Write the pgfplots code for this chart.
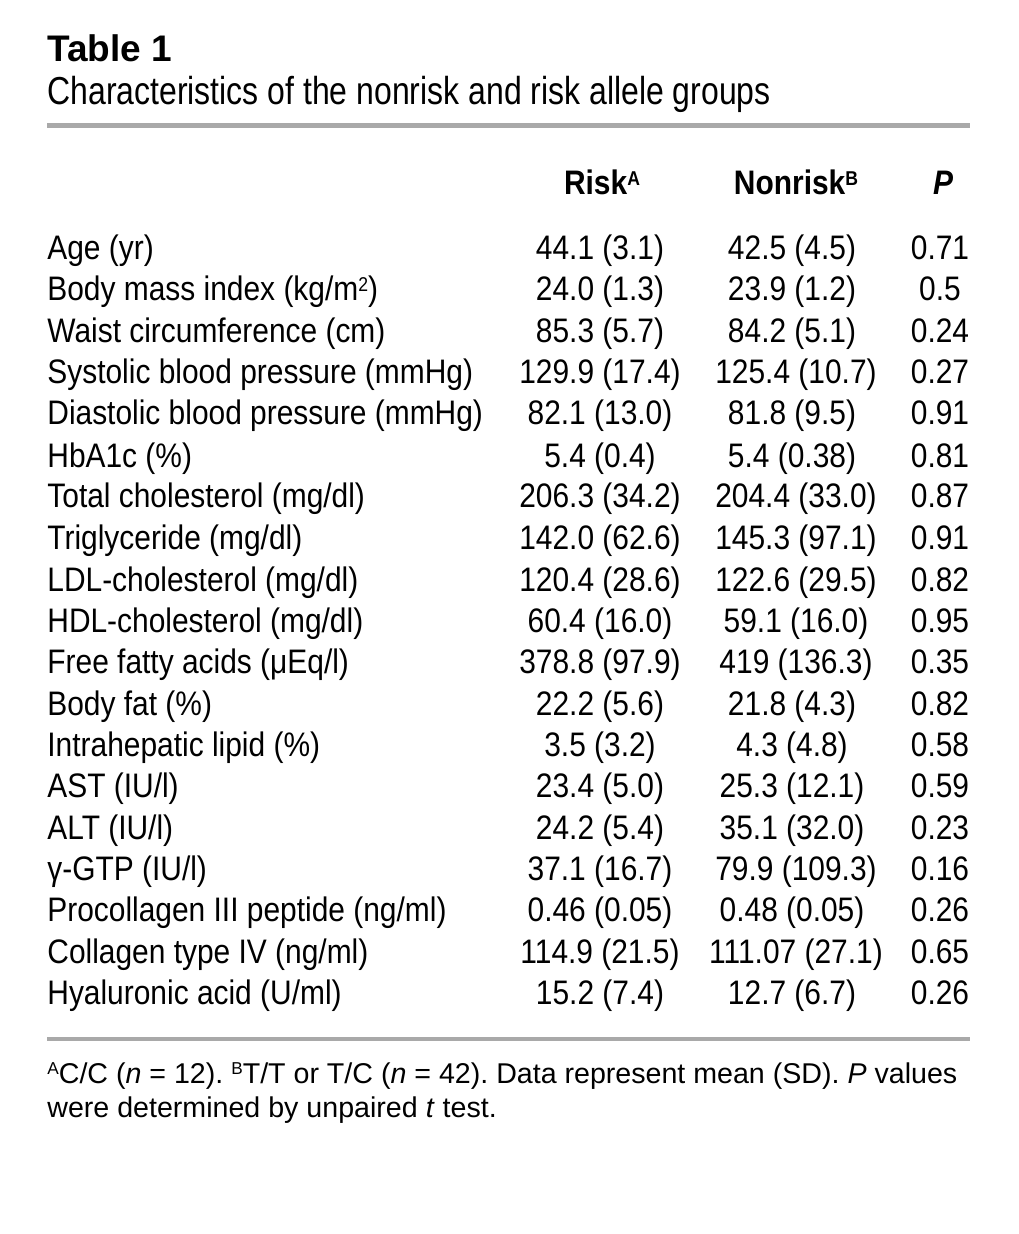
\documentclass[border=0pt]{standalone}
\usepackage{pgfplots}
\pgfplotsset{compat=1.18}
\usepackage{fontspec}
\setmainfont{Liberation Sans}[FakeStretch=0.88]
\newfontfamily\widefont{Liberation Sans}
\newfontfamily\subfont{Liberation Sans}[FakeStretch=0.82]
\frenchspacing

\definecolor{rulegray}{HTML}{A9A9A9}

% small superscripts with their top at cap height (table body / footnote)
\newcommand\supl[1]{\raisebox{0.29em}{\fontsize{10}{10}\selectfont #1}}
\newcommand\supf[1]{\raisebox{0.29em}{\fontsize{8.6}{8.6}\selectfont #1}}

% one text column of the table: x,y of the anchor, text as meta
\pgfplotsset{
  txt/.style={draw=none, mark=none, nodes near coords,
    point meta=explicit symbolic,
    every node near coord/.style={anchor=#1, inner sep=0pt, font=\fontsize{17}{19}\selectfont}},
}

\begin{document}
\begin{tikzpicture}
\begin{axis}[
  scale only axis, width=509pt, height=617pt,
  xmin=0, xmax=1018, ymin=0, ymax=1234, y dir=reverse,
  hide axis, clip=false,
]
\path (rel axis cs:0,0) rectangle (rel axis cs:1,1);

% title and rules
\addplot[draw=none, mark=none, nodes near coords, point meta=explicit symbolic,
  every node near coord/.style={anchor=base west, inner sep=0pt, font=\widefont\bfseries\fontsize{18.5}{20}\selectfont}]
  coordinates {(47,62) [Table 1]};
\addplot[draw=none, mark=none, nodes near coords, point meta=explicit symbolic,
  every node near coord/.style={anchor=base west, inner sep=0pt, font=\subfont\fontsize{19.5}{22}\selectfont}]
  coordinates {(47,105) [Characteristics of the nonrisk and risk allele groups]};
\addplot[rulegray, line width=2.5pt] coordinates {(47,125.5) (970,125.5)};
\addplot[rulegray, line width=2pt] coordinates {(47,1039) (970,1039)};

% header
\addplot[txt=base, every node near coord/.append style={font=\bfseries\fontsize{17}{19}\selectfont}]
  coordinates {(602,195) [Risk\supl{A}] (796,195) [Nonrisk\supl{B}] (943,195) [\textit{P}]};

% row labels
\addplot[txt=base west] coordinates {
(47,260) [Age (yr)]
(47,301) [Body mass index (kg/m\supl{2})]
(47,343) [Waist circumference (cm)]
(47,384) [Systolic blood pressure (mmHg)]
(47,425) [Diastolic blood pressure (mmHg)]
(47,467) [HbA1c (\%)]
(47,508) [Total cholesterol (mg/dl)]
(47,549) [Triglyceride (mg/dl)]
(47,591) [LDL-cholesterol (mg/dl)]
(47,632) [HDL-cholesterol (mg/dl)]
(47,673) [Free fatty acids (μEq/l)]
(47,715) [Body fat (\%)]
(47,756) [Intrahepatic lipid (\%)]
(47,797) [AST (IU/l)]
(47,839) [ALT (IU/l)]
(47,880) [γ-GTP (IU/l)]
(47,921) [Procollagen III peptide (ng/ml)]
(47,963) [Collagen type IV (ng/ml)]
(47,1004) [Hyaluronic acid (U/ml)]
};

% risk
\addplot[txt=base] coordinates {
(600,260) [44.1 (3.1)]
(600,301) [24.0 (1.3)]
(600,343) [85.3 (5.7)]
(600,384) [129.9 (17.4)]
(600,425) [82.1 (13.0)]
(600,467) [5.4 (0.4)]
(600,508) [206.3 (34.2)]
(600,549) [142.0 (62.6)]
(600,591) [120.4 (28.6)]
(600,632) [60.4 (16.0)]
(600,673) [378.8 (97.9)]
(600,715) [22.2 (5.6)]
(600,756) [3.5 (3.2)]
(600,797) [23.4 (5.0)]
(600,839) [24.2 (5.4)]
(600,880) [37.1 (16.7)]
(600,921) [0.46 (0.05)]
(600,963) [114.9 (21.5)]
(600,1004) [15.2 (7.4)]
};

% nonrisk
\addplot[txt=base] coordinates {
(792,260) [42.5 (4.5)]
(792,301) [23.9 (1.2)]
(792,343) [84.2 (5.1)]
(796,384) [125.4 (10.7)]
(792,425) [81.8 (9.5)]
(792,467) [5.4 (0.38)]
(796,508) [204.4 (33.0)]
(796,549) [145.3 (97.1)]
(796,591) [122.6 (29.5)]
(796,632) [59.1 (16.0)]
(796,673) [419 (136.3)]
(792,715) [21.8 (4.3)]
(792,756) [4.3 (4.8)]
(792,797) [25.3 (12.1)]
(792,839) [35.1 (32.0)]
(796,880) [79.9 (109.3)]
(792,921) [0.48 (0.05)]
(796,963) [111.07 (27.1)]
(792,1004) [12.7 (6.7)]
};

% P values
\addplot[txt=base] coordinates {
(940,260) [0.71]
(940,301) [0.5]
(940,343) [0.24]
(940,384) [0.27]
(940,425) [0.91]
(940,467) [0.81]
(940,508) [0.87]
(940,549) [0.91]
(940,591) [0.82]
(940,632) [0.95]
(940,673) [0.35]
(940,715) [0.82]
(940,756) [0.58]
(940,797) [0.59]
(940,839) [0.23]
(940,880) [0.16]
(940,921) [0.26]
(940,963) [0.65]
(940,1004) [0.26]
};

% footnote
\addplot[txt=base west, every node near coord/.append style={font=\widefont\fontsize{14.3}{16}\selectfont}] coordinates {
(47,1083) [\supf{A}C/C (\textit{n} = 12). \supf{B}T/T or T/C (\textit{n} = 42). Data represent mean (SD). \textit{P} values]
(47,1117) [were determined by unpaired \textit{t} test.]
};
\end{axis}
\end{tikzpicture}
\end{document}
